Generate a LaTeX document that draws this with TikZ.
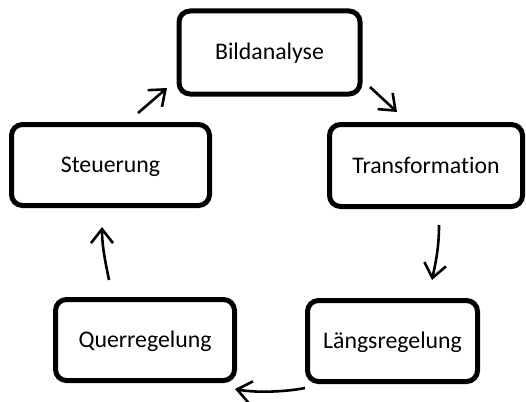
\documentclass[tikz,border=0pt]{standalone}
\usepackage{fontspec}
\setmainfont{Carlito}[Ligatures=NoCommon]
\usetikzlibrary{arrows.meta,calc}
\tikzset{
  box/.style={draw=black, line width=5pt, rounded corners=11pt, outer sep=0pt,
    inner sep=0pt, minimum height=81pt, text height=15pt, text depth=0pt,
    font=\fontsize{23.8}{28}\selectfont},
  arr/.style={line width=2.6pt, -{Straight Barb[length=14pt,width=22pt,line width=2.6pt]}}
}
\begin{document}
\begin{tikzpicture}[x=1pt,y=-1pt]
\useasboundingbox (0,0) rectangle (526,401);
\node[box, minimum width=181pt, minimum height=83pt] (bild) at (269.5,52.5) {Bildanalyse};
\node[box, minimum width=193pt, minimum height=82pt] (trans) at (426,165.5) {Transformation};
\node[box, minimum width=198pt] (steu) at (110.5,165) {Steuerung};
\node[box, minimum width=179pt] (quer) at (145,340) {Querregelung};
\node[box, minimum width=170pt] (laengs) at (392.5,341) {Längsregelung};

% Steuerung -> Bildanalyse
\coordinate (a1s) at ($(steu.north)+(27.5,-11.5)$);
\coordinate (a1e) at ($(bild.south west)+(-12,-6)$);
\draw[arr] (a1s) -- (a1e);
% Bildanalyse -> Transformation
\coordinate (a2s) at ($(bild.south east)+(10,-7)$);
\coordinate (a2e) at ($(trans.north)+(-29,-12.5)$);
\draw[arr] (a2s) -- (a2e);
% Transformation -> Laengsregelung
\coordinate (a3s) at ($(trans.south)+(13,18.5)$);
\coordinate (a3e) at ($(laengs.north east)+(-45.5,-20.5)$);
\draw[arr] (a3s) .. controls ($(a3s)+(0,25)$) and ($(a3e)+(3,-15)$) .. (a3e);
% Laengsregelung -> Querregelung
\coordinate (a4s) at ($(laengs.south west)+(-2.5,6.5)$);
\coordinate (a4e) at ($(quer.south east)+(0.5,8.5)$);
\draw[arr] (a4s) .. controls ($(a4s)+(-20,4)$) and ($(a4e)+(20,4)$) .. (a4e);
% Querregelung -> Steuerung
\coordinate (a5s) at ($(quer.north)+(-36,-19.5)$);
\coordinate (a5e) at ($(steu.south)+(-8.5,21.5)$);
\draw[arr] (a5s) .. controls ($(a5s)+(-3,-15)$) and ($(a5e)+(0,20)$) .. (a5e);
\end{tikzpicture}
\end{document}
